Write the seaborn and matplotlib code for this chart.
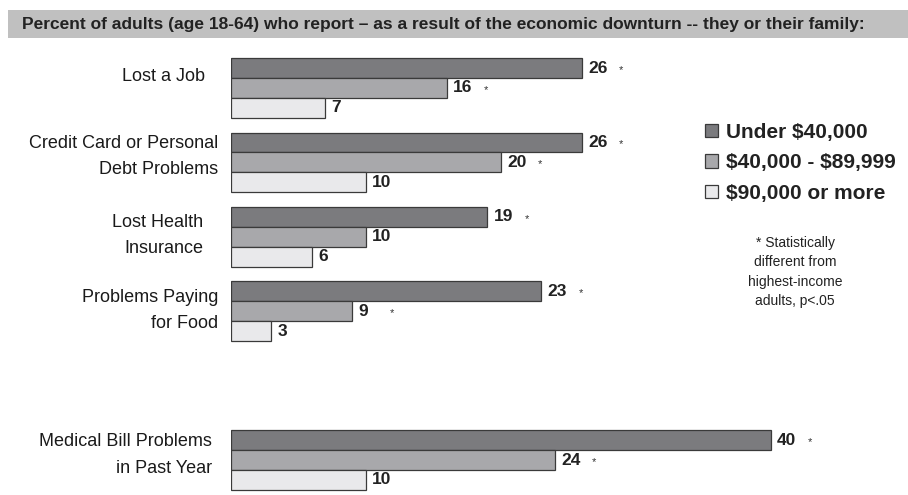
import matplotlib
matplotlib.use("Agg")
import matplotlib.pyplot as plt
import seaborn as sns
import pandas as pd
from matplotlib.patches import Rectangle
from matplotlib.transforms import blended_transform_factory, offset_copy

# ---------------- data ----------------
categories = ["Lost a Job",
              "Credit Card or Personal\nDebt Problems",
              "Lost Health\nInsurance",
              "Problems Paying\nfor Food",
              "Medical Bill Problems\nin Past Year"]
groups = ["Under $40,000", "$40,000 - $89,999", "$90,000 or more"]
under_40k = [26, 26, 19, 23, 40]
mid_40_90k = [16, 20, 10, 9, 24]
over_90k = [7, 10, 6, 3, 10]
sig_under_40k = [True, True, True, True, True]
sig_mid_40_90k = [True, True, False, True, True]
sig_over_90k = [False, False, False, False, False]
title = "Percent of adults (age 18-64) who report \u2013 as a result of the economic downturn -- they or their family:"
footnote = "* Statistically\ndifferent from\nhighest-income\nadults, p<.05"

# ---------------- styling ----------------
SANS = ["Liberation Sans", "DejaVu Sans"]
colors = ["#7a7b7f", "#a7a8ab", "#e9e9eb"]
W, H = 908, 495

rows = []
for vals, sigs, g in [(under_40k, sig_under_40k, groups[0]),
                      (mid_40_90k, sig_mid_40_90k, groups[1]),
                      (over_90k, sig_over_90k, groups[2])]:
    for c, v, s in zip(categories, vals, sigs):
        rows.append({"category": c, "value": v, "group": g, "sig": s})
df = pd.DataFrame(rows)

spacer = " "
order = categories[:4] + [spacer] + categories[4:]

sns.set_style("white")
plt.rcParams["text.parse_math"] = False
plt.rcParams["font.family"] = SANS

fig = plt.figure(figsize=(W / 100, H / 100), dpi=100)
ax = fig.add_axes([231 / W, 0, 675 / W, 445 / H])

sns.barplot(data=df, y="category", x="value", hue="group", order=order,
            hue_order=groups, palette=colors, orient="h", width=0.8,
            edgecolor="#3a3a3a", linewidth=0.9, ax=ax, legend=True)

ax.set_xlim(0, 50)
ax.set_ylim(5.47, -0.51)
for s in ax.spines.values():
    s.set_visible(False)
ax.set_xticks([])
ax.set_yticks([])
ax.set_xlabel("")
ax.set_ylabel("")

# value labels and significance asterisks
sig_lookup = {(r.category, r.group): r.sig for r in df.itertuples()}
for g, cont in zip(groups, ax.containers):
    for bar in cont:
        w = bar.get_width()
        if w != w or w == 0:
            continue
        yc = bar.get_y() + bar.get_height() / 2
        cat = order[int(round(yc))]
        tr = offset_copy(ax.transData, fig=fig, x=6, y=0, units="dots")
        ax.text(w, yc, f"{int(w)}", transform=tr, ha="left", va="center",
                fontsize=12.5, fontweight="bold", color="#222222")
        if sig_lookup.get((cat, g), False):
            tr2 = offset_copy(ax.transData, fig=fig, x=37, y=-2, units="dots")
            ax.text(w, yc, "*", transform=tr2, ha="left", va="center",
                    fontsize=8, color="#333333")

# category labels
label_x = [205, 218, 203, 218, 212]
label_dy = [-11, -6, -1, -1, -5]
for i, cat in enumerate(categories):
    ypos = order.index(cat)
    tr = offset_copy(blended_transform_factory(fig.transFigure, ax.transData),
                     fig=fig, x=0, y=-label_dy[i], units="dots")
    fig.text(label_x[i] / W, ypos, cat, transform=tr, ha="right", va="center",
             fontsize=13, color="#1a1a1a", linespacing=1.7,
             multialignment="right")

# legend
handles, labels = ax.get_legend_handles_labels()
ax.get_legend().remove()
leg = fig.legend(handles, labels, loc="upper left",
                 bbox_to_anchor=(705 / W, 1 - 123 / H),
                 bbox_transform=fig.transFigure, frameon=False,
                 prop={"weight": "bold", "size": 15},
                 handlelength=0.62, handleheight=0.62, handletextpad=0.38,
                 labelspacing=0.55, borderpad=0, borderaxespad=0)
for t in leg.get_texts():
    t.set_color("#222222")

# footnote
fig.text(795 / W, 1 - 272 / H, footnote, ha="center", va="center",
         fontsize=10, color="#222222", linespacing=1.5)

# title band
fig.patches.append(Rectangle((8 / W, 1 - 38 / H), 900 / W, 28 / H,
                             transform=fig.transFigure, facecolor="#c0c0c0",
                             edgecolor="none", zorder=0))
fig.text(22 / W, 1 - 24 / H, title, ha="left", va="center", fontsize=12.5,
         color="#222222", fontweight="bold")

fig.savefig("out.png", dpi=100)
